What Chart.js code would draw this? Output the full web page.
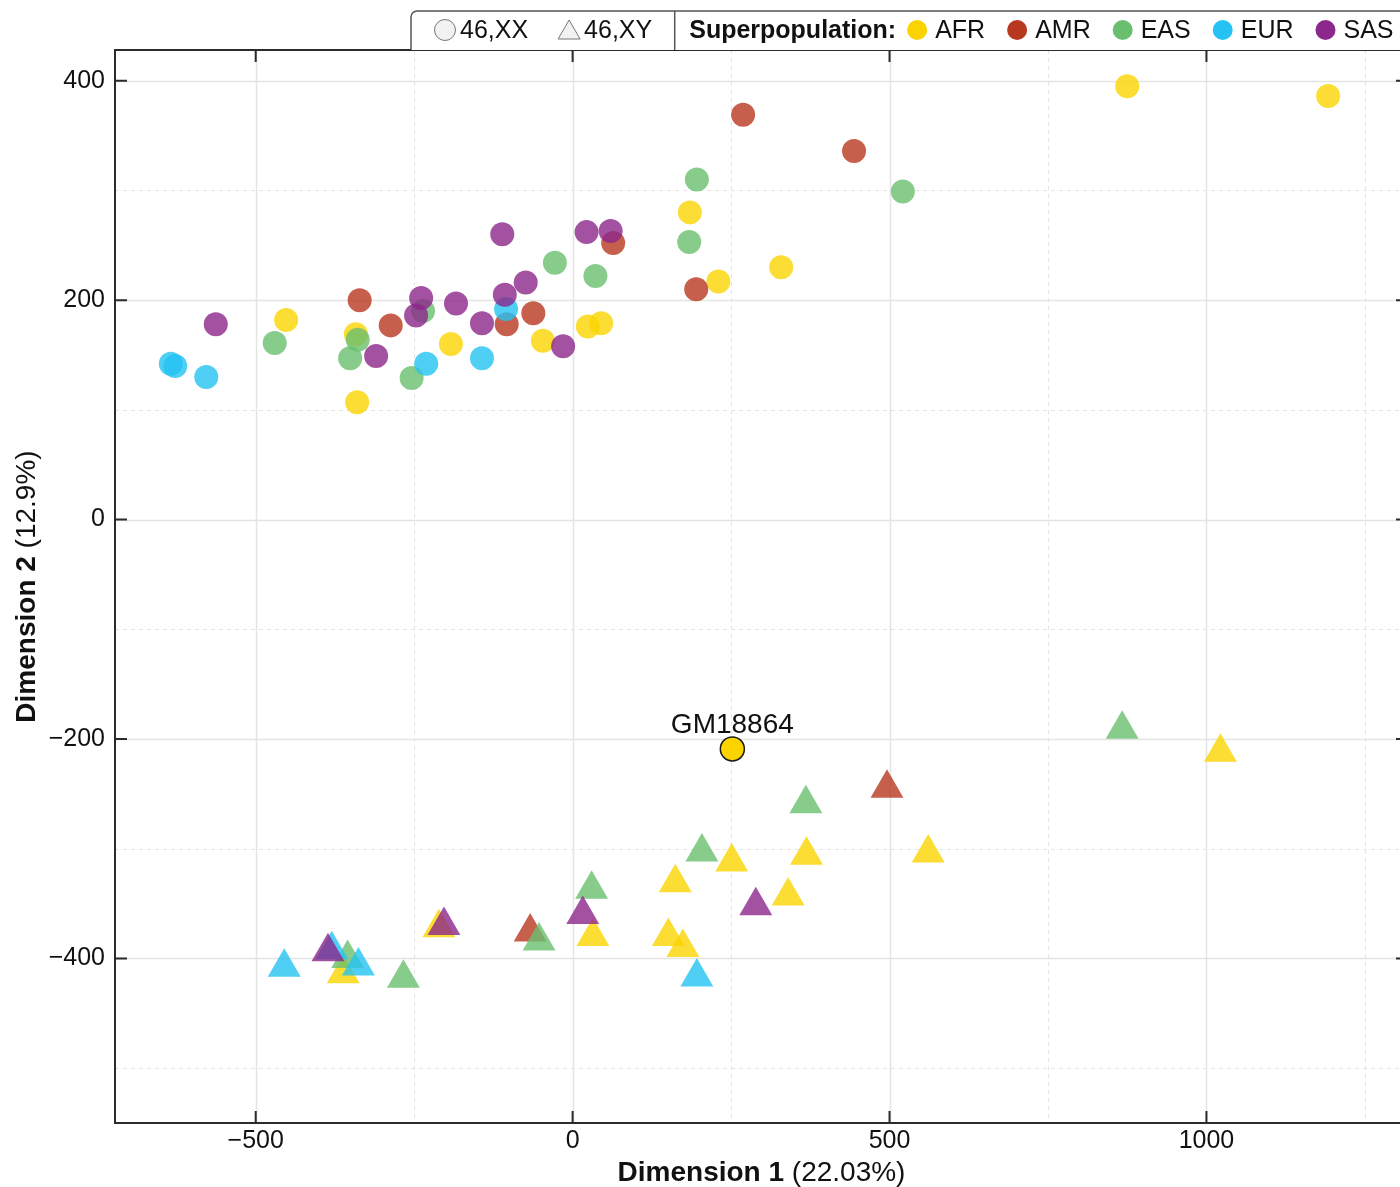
<!DOCTYPE html>
<html>
<head>
<meta charset="utf-8">
<title>MDS superpopulation</title>
<script src="https://cdn.jsdelivr.net/npm/chart.js@4.4.1/dist/chart.umd.min.js"></script>
<style>
  html, body { margin: 0; padding: 0; background: #fff; overflow: hidden; }
  #mds { position: absolute; left: 0; top: 0; }
</style>
</head>
<body>
<canvas id="mds" width="1410" height="1187"></canvas>
<script>
// MDS coordinates [dimension 1, dimension 2]
// 46,XX samples are circles, 46,XY samples triangles
const afrXX = [[875, 395], [1192, 386], [-452, 182], [-342, 169], [-340, 107], [-192, 160],
               [-47, 163], [24, 176], [45, 179], [185, 280], [230, 217], [329, 230]];
const amrXX = [[269, 369], [444, 336], [-336, 200], [-287, 177], [-104, 178], [-62, 188],
               [64, 252], [195, 210]];
const easXX = [[196, 310], [521, 299], [184, 253], [-28, 234], [36, 222], [-470, 161],
               [-236, 190], [-351, 147], [-339, 164], [-254, 129]];
const eurXX = [[-634, 142], [-627, 140], [-578, 130], [-231, 142], [-143, 147], [-105, 192]];
const sasXX = [[-563, 178], [-310, 149], [-247, 186], [-239, 202], [-184, 197], [-143, 179],
               [-111, 260], [-107, 205], [-74, 216], [-15, 158], [22, 262], [60, 263]];

const afrXY = [[1022, -212], [561, -304], [369, -306], [251, -312], [162, -331], [340, -343],
               [32, -380], [151, -380], [174, -390], [-362, -414], [-211, -372]];
const amrXY = [[496, -245], [-67, -376]];
const easXY = [[867, -191], [368, -259], [204, -303], [30, -337], [-355, -400], [-267, -418], [-53, -384]];
const eurXY = [[196, -417], [-455, -408], [-380, -392], [-338, -407]];
const sasXY = [[289, -352], [16, -360], [-386, -394], [-203, -370]];

// the highlighted sample
const sampleName = 'GM18864';
const samplePt = [[252, -209]];

const popNames = ['AFR', 'AMR', 'EAS', 'EUR', 'SAS'];
const popColors = ['#FBD400', '#B8381F', '#6ABF6F', '#24C3F3', '#8C278B'];
const sexLabels = ['46,XX', '46,XY'];

const xMajor = [-500, 0, 500, 1000];
const xMinor = [-250, 250, 750, 1250];
const yMajor = [-400, -200, 0, 200, 400];
const yMinor = [-500, -300, -100, 100, 300];

const FONT = '"Liberation Sans", Arial, Helvetica, sans-serif';

function pts(arr) {
    return arr.map(p => ({ x: p[0], y: p[1] }));
}

function fade(hex, a) {
    var r = parseInt(hex.slice(1, 3), 16);
    var g = parseInt(hex.slice(3, 5), 16);
    var b = parseInt(hex.slice(5, 7), 16);
    return `rgba(${r},${g},${b},${a})`;
}

function minusFmt(v) {
    return v < 0 ? '\u2212' + Math.abs(v) : String(v);
}

const xxSets = [afrXX, amrXX, easXX, eurXX, sasXX];
const xySets = [afrXY, amrXY, easXY, eurXY, sasXY];

// first dataset ends up on top
var datasets = [{
    label: sampleName,
    data: pts(samplePt),
    pointStyle: 'circle',
    pointRadius: 12,
    backgroundColor: popColors[0],
    borderColor: '#1a1a1a',
    borderWidth: 1.5
}];
for (var i = popNames.length - 1; i >= 0; i--) {
    datasets.push({
        label: popNames[i] + ' ' + sexLabels[1],
        data: pts(xySets[i]),
        pointStyle: 'triangle',
        pointRadius: 19,
        backgroundColor: fade(popColors[i], 0.8),
        borderWidth: 0
    });
    datasets.push({
        label: popNames[i] + ' ' + sexLabels[0],
        data: pts(xxSets[i]),
        pointStyle: 'circle',
        pointRadius: 12,
        backgroundColor: fade(popColors[i], 0.8),
        borderWidth: 0
    });
}

// grid, frame, inward ticks, axis titles, legend and sample label
const decor = {
    id: 'decor',
    beforeDatasetsDraw(chart) {
        const ctx = chart.ctx;
        const a = chart.chartArea;
        const sx = chart.scales.x, sy = chart.scales.y;
        ctx.save();
        ctx.strokeStyle = '#e4e4e4';
        ctx.lineWidth = 1.5;
        xMajor.forEach(v => {
            var px = Math.round(sx.getPixelForValue(v)) + 0.5;
            ctx.beginPath(); ctx.moveTo(px, a.top); ctx.lineTo(px, a.bottom); ctx.stroke();
        });
        yMajor.forEach(v => {
            var py = Math.round(sy.getPixelForValue(v)) + 0.5;
            ctx.beginPath(); ctx.moveTo(a.left, py); ctx.lineTo(a.right, py); ctx.stroke();
        });
        ctx.lineWidth = 1;
        ctx.setLineDash([4, 4]);
        xMinor.forEach(v => {
            var px = Math.round(sx.getPixelForValue(v)) + 0.5;
            ctx.beginPath(); ctx.moveTo(px, a.top); ctx.lineTo(px, a.bottom); ctx.stroke();
        });
        yMinor.forEach(v => {
            var py = Math.round(sy.getPixelForValue(v)) + 0.5;
            ctx.beginPath(); ctx.moveTo(a.left, py); ctx.lineTo(a.right, py); ctx.stroke();
        });
        ctx.restore();
    },
    afterDraw(chart) {
        const ctx = chart.ctx;
        const a = chart.chartArea;
        const sx = chart.scales.x, sy = chart.scales.y;
        ctx.save();

        // frame
        ctx.strokeStyle = '#2b2b2b';
        ctx.lineWidth = 2;
        ctx.strokeRect(a.left, a.top, a.right - a.left, a.bottom - a.top);

        // inward ticks on all four sides
        const tl = 12;
        ctx.beginPath();
        xMajor.forEach(v => {
            var px = sx.getPixelForValue(v);
            ctx.moveTo(px, a.bottom); ctx.lineTo(px, a.bottom - tl);
            ctx.moveTo(px, a.top); ctx.lineTo(px, a.top + tl);
        });
        yMajor.forEach(v => {
            var py = sy.getPixelForValue(v);
            ctx.moveTo(a.left, py); ctx.lineTo(a.left + tl, py);
            ctx.moveTo(a.right, py); ctx.lineTo(a.right - tl, py);
        });
        ctx.stroke();

        // axis titles: bold name + plain percentage
        function mixedTitle(bold, plain, cx, cy, rot) {
            ctx.save();
            ctx.translate(cx, cy);
            ctx.rotate(rot);
            ctx.textBaseline = 'middle';
            ctx.textAlign = 'left';
            ctx.font = `bold 28px ${FONT}`;
            var w1 = ctx.measureText(bold).width;
            ctx.font = `28px ${FONT}`;
            var w2 = ctx.measureText(plain).width;
            var x0 = -(w1 + w2) / 2;
            ctx.fillStyle = '#111';
            ctx.font = `bold 28px ${FONT}`;
            ctx.fillText(bold, x0, 0);
            ctx.font = `28px ${FONT}`;
            ctx.fillText(plain, x0 + w1, 0);
            ctx.restore();
        }
        mixedTitle('Dimension 1', ' (22.03%)', (a.left + a.right) / 2, 1173, 0);
        mixedTitle('Dimension 2', ' (12.9%)', 27, (a.top + a.bottom) / 2, -Math.PI / 2);

        // sample label
        var spx = sx.getPixelForValue(samplePt[0][0]);
        var spy = sy.getPixelForValue(samplePt[0][1]);
        ctx.font = `28px ${FONT}`;
        ctx.fillStyle = '#111';
        ctx.textAlign = 'center';
        ctx.textBaseline = 'alphabetic';
        ctx.fillText(sampleName, spx, spy - 16);

        // legend box across the top
        const lx = 411, ly = 11, lr = 6, mid = 30;
        ctx.fillStyle = '#fff';
        ctx.fillRect(lx, ly, chart.width - lx, a.top - ly);
        ctx.beginPath();
        ctx.moveTo(lx, a.top);
        ctx.lineTo(lx, ly + lr);
        ctx.arcTo(lx, ly, lx + lr, ly, lr);
        ctx.lineTo(chart.width + 5, ly);
        ctx.strokeStyle = '#555';
        ctx.lineWidth = 1.5;
        ctx.stroke();

        ctx.textAlign = 'left';
        ctx.textBaseline = 'middle';
        ctx.font = `25px ${FONT}`;
        var cx = lx + 34;
        // 46,XX
        ctx.beginPath();
        ctx.arc(cx, mid, 10.5, 0, Math.PI * 2);
        ctx.fillStyle = '#f2f2f2'; ctx.fill();
        ctx.strokeStyle = '#777'; ctx.lineWidth = 1; ctx.stroke();
        ctx.fillStyle = '#111';
        ctx.fillText(sexLabels[0], cx + 15, mid + 1);
        cx = cx + 15 + ctx.measureText(sexLabels[0]).width + 41;
        // 46,XY
        ctx.beginPath();
        ctx.moveTo(cx, mid - 10);
        ctx.lineTo(cx + 11, mid + 9);
        ctx.lineTo(cx - 11, mid + 9);
        ctx.closePath();
        ctx.fillStyle = '#f2f2f2'; ctx.fill();
        ctx.strokeStyle = '#777'; ctx.stroke();
        ctx.fillStyle = '#111';
        ctx.fillText(sexLabels[1], cx + 15, mid + 1);
        cx = cx + 15 + ctx.measureText(sexLabels[1]).width + 22;
        // divider
        ctx.beginPath();
        ctx.moveTo(cx + 0.5, ly); ctx.lineTo(cx + 0.5, a.top);
        ctx.strokeStyle = '#555'; ctx.lineWidth = 1.5; ctx.stroke();
        cx += 15;
        ctx.font = `bold 25px ${FONT}`;
        ctx.fillText('Superpopulation:', cx, mid + 1);
        cx += ctx.measureText('Superpopulation:').width + 11;
        ctx.font = `25px ${FONT}`;
        popNames.forEach((p, k) => {
            ctx.beginPath();
            ctx.arc(cx + 10, mid, 10, 0, Math.PI * 2);
            ctx.fillStyle = popColors[k]; ctx.fill();
            ctx.fillStyle = '#111';
            ctx.fillText(p, cx + 28, mid + 1);
            cx += 28 + ctx.measureText(p).width + 22;
        });

        ctx.restore();
    }
};

function fixedTicks(values) {
    return function (s) { s.ticks = values.map(v => ({ value: v })); };
}

const chart = new Chart(document.getElementById('mds'), {
    type: 'scatter',
    data: { datasets: datasets },
    options: {
        responsive: false,
        animation: false,
        devicePixelRatio: 1,
        layout: { autoPadding: false, padding: { left: 0, top: 50, right: 2, bottom: 0 } },
        plugins: {
            legend: { display: false },
            tooltip: { enabled: false }
        },
        elements: { point: { hoverRadius: 12 } },
        scales: {
            x: {
                type: 'linear',
                min: -722,
                max: 1318,
                grid: { display: false, tickLength: 0 },
                border: { display: false },
                title: { display: false },
                afterBuildTicks: fixedTicks(xMajor),
                ticks: {
                    autoSkip: false,
                    maxRotation: 0,
                    padding: 3,
                    color: '#111',
                    font: { family: FONT, size: 25 },
                    callback: minusFmt
                },
                afterFit: function (s) { s.height = 64; }
            },
            y: {
                type: 'linear',
                min: -550,
                max: 428,
                grid: { display: false, tickLength: 0 },
                border: { display: false },
                title: { display: false },
                afterBuildTicks: fixedTicks(yMajor),
                ticks: {
                    autoSkip: false,
                    padding: 10,
                    color: '#111',
                    font: { family: FONT, size: 25 },
                    callback: minusFmt
                },
                afterFit: function (s) { s.width = 115; }
            }
        }
    },
    plugins: [decor]
});
</script>
</body>
</html>
